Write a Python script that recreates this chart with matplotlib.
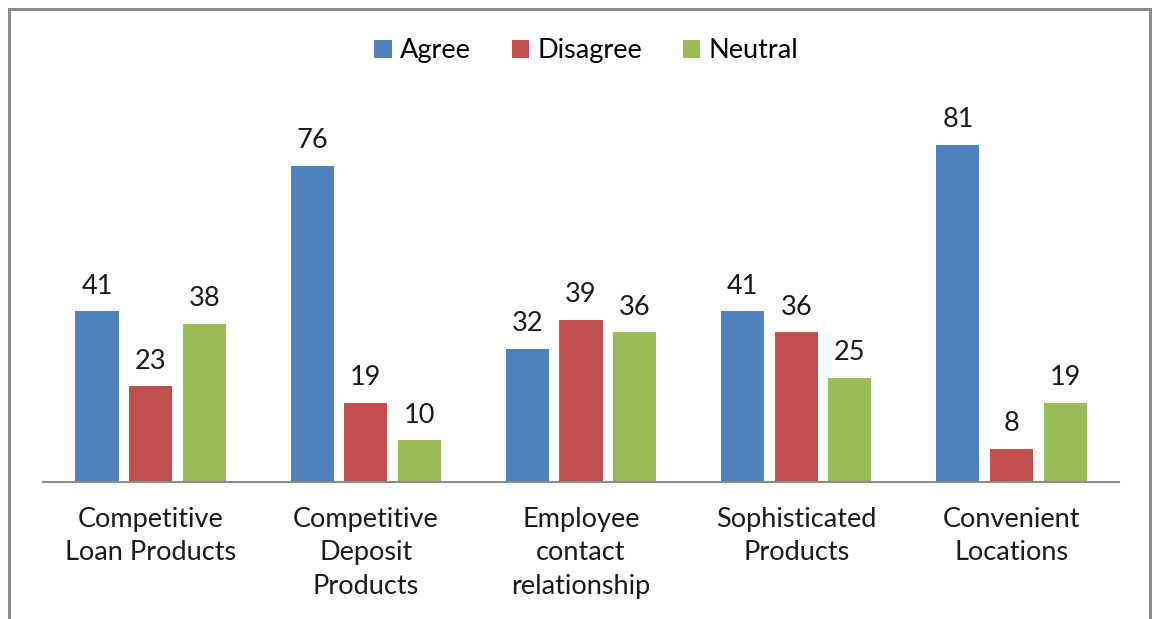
import matplotlib
matplotlib.use("Agg")
import matplotlib.pyplot as plt
import numpy as np
from matplotlib.patches import Rectangle

categories = ["Competitive\nLoan Products", "Competitive\nDeposit\nProducts",
              "Employee\ncontact\nrelationship", "Sophisticated\nProducts",
              "Convenient\nLocations"]
series_names = ["Agree", "Disagree", "Neutral"]
agree = [41, 76, 32, 41, 81]
disagree = [23, 19, 39, 36, 8]
neutral = [38, 10, 36, 25, 19]
colors = ["#4F81BD", "#C0504D", "#9BBB59"]

plt.rcParams["font.family"] = ["Lato", "DejaVu Sans"]

fig = plt.figure(figsize=(11.52, 6.19), dpi=100)
ax = fig.add_axes([0.0373, 0.2213, 0.9341, 0.605])

x = np.arange(len(categories))
step = 0.249
width = 0.2
for i, (name, vals, c) in enumerate(zip(series_names, [agree, disagree, neutral], colors)):
    pos = x + (i - 1) * step
    ax.bar(pos, vals, width=width, color=c, label=name, zorder=2)
    for p, v in zip(pos, vals):
        ax.annotate(str(v), (p, v), xytext=(0, 9), textcoords="offset points",
                    ha="center", va="bottom", fontsize=19.5, color="#1a1a1a")

ax.set_xlim(-0.5, len(categories) - 0.5)
ax.set_ylim(0, 90)
ax.set_yticks([])
ax.set_xticks(x)
ax.set_xticklabels(categories, fontsize=19.5, color="#1a1a1a", linespacing=1.42)
ax.tick_params(axis="x", length=0, pad=18)
for s in ["top", "right", "left"]:
    ax.spines[s].set_visible(False)
ax.spines["bottom"].set_color("#8c8c8c")
ax.spines["bottom"].set_linewidth(1.5)

fig.legend(loc="center", bbox_to_anchor=(0.509, 0.918), ncol=3, frameon=False,
           fontsize=19.5, handlelength=0.65, handleheight=0.65, handletextpad=0.3,
           columnspacing=1.5)

fig.patches.append(Rectangle((8.5 / 1152, -0.05), (1150 - 8.5) / 1152, 1.05 - 8.5 / 619,
                             transform=fig.transFigure, fill=False,
                             edgecolor="#8a8a8a", linewidth=2.2))

fig.savefig("out.png", dpi=100)
